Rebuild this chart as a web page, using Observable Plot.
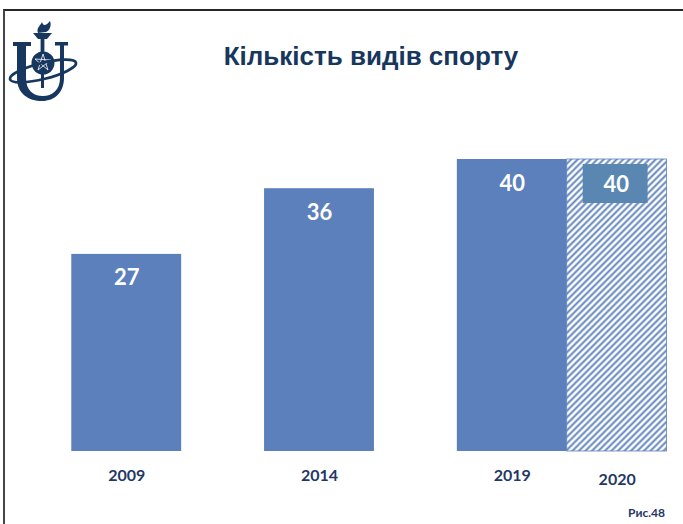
<!DOCTYPE html>
<html><head><meta charset="utf-8">
<script src="https://cdn.jsdelivr.net/npm/d3@7"></script>
<script src="https://cdn.jsdelivr.net/npm/@observablehq/plot@0.6"></script>
<style>
body{margin:0;background:#fff;}
#wrap{position:relative;width:683px;height:524px;overflow:hidden;font-family:Lato,sans-serif;}
#frame{position:absolute;left:3px;top:9px;width:700px;height:540px;border-top:2px solid #262626;border-left:2px solid #444;box-sizing:border-box;pointer-events:none;}
#header{position:relative;height:110px;}
#logo{position:absolute;left:5px;top:20px;}
#title{position:absolute;left:0;width:742px;top:43px;text-align:center;font:bold 26px "Liberation Sans",Arial,sans-serif;color:#17375E;line-height:26px;white-space:nowrap;}
#caption{position:absolute;right:18px;top:506px;font:bold 12px Lato,sans-serif;color:#1F3864;line-height:14px;}
#chart svg{display:block;}
</style></head>
<body>
<div id="wrap">
  <div id="header">
    <svg id="logo" width="80" height="85" viewBox="0 0 80 85">
      <g fill="#17375E">
        <path d="M33,13 C31,8 35,6 37,2 C38,6 41,6 45,1 C47,6 44,11 41,12 Z"/>
        <path d="M28,13 L47,13 L42,19 L33,19 Z"/>
        <rect x="35.6" y="18" width="3.8" height="14"/>
        <rect x="8" y="22" width="18" height="4"/>
        <rect x="50" y="22" width="13" height="3.5"/>
        <path d="M12,24 L12,58 C12,74 24,81 37,81 C50,81 59,72 59,58 L59,24 L55,24 L55,58 C55,70 47,76 38,76 C28,76 21,70 21,58 L21,24 Z"/>
        <circle cx="38" cy="43" r="11.5"/>
        <rect x="36" y="54" width="3" height="14"/>
      </g>
      <g stroke="#fff" stroke-width="0.8" fill="none">
        <path d="M30,39 L46,40 L33,50 L38,34 L43,50 Z"/>
      </g>
      <ellipse cx="38" cy="51" rx="34" ry="8" transform="rotate(-14 38 51)" fill="none" stroke="#17375E" stroke-width="2.8"/>
    </svg>
    <div id="title">Кількість видів спорту</div>
  </div>
  <div id="chart"></div>
  <div id="caption">Рис.48</div>
  <div id="frame"></div>
</div>
<script>
const years = ["2009", "2014", "2019"];
const counts = [27, 36, 40];
const forecastYear = "2020";
const forecastCount = 40;

const data = years.map((year, i) => ({year, value: counts[i]}));
const fc = [{year: forecastYear, anchor: years[years.length - 1], value: forecastCount}];

const W = 683, H = 414;
const marginLeft = 52, marginRight = 97, marginTop = 49, marginBottom = 73;
const xOpts = {type: "band", domain: years, paddingInner: 0.43, paddingOuter: 0.1, round: false};
const yOpts = {domain: [0, 40]};
const xs = Plot.scale({x: {...xOpts, range: [marginLeft, W - marginRight]}});
const ys = Plot.scale({y: {...yOpts, range: [H - marginBottom, marginTop]}});
const bw = xs.bandwidth;
const barColor = "#5B80BC";
const navy = "#1F3864";
const fcBarPx = ys.apply(0) - ys.apply(forecastCount);

const plot = Plot.plot({
  width: W, height: H,
  marginLeft, marginRight, marginTop, marginBottom,
  x: {...xOpts, axis: null},
  y: {...yOpts, axis: null},
  style: {fontFamily: "Lato, sans-serif", background: "transparent", overflow: "visible"},
  marks: [
    Plot.barY(data, {x: "year", y: "value", fill: barColor}),
    Plot.barY(fc, {x: "anchor", y: "value", dx: bw, insetRight: 10, fill: "white", stroke: barColor, strokeWidth: 0.8}),
    Plot.barY(fc, {x: "anchor", y: "value", dx: bw, insetLeft: 16, insetRight: 29, insetTop: 5, insetBottom: fcBarPx - 44, fill: "#5A86B2"}),
    Plot.text(data, {x: "year", y: "value", text: d => String(d.value), dy: 24, fill: "white", fontSize: 22, fontWeight: "bold"}),
    Plot.text(fc, {x: "anchor", y: "value", text: d => String(d.value), dx: bw - 6, dy: 25, fill: "white", fontSize: 22, fontWeight: "bold"}),
    Plot.text(data, {x: "year", y: () => 0, text: "year", dy: 24, fill: navy, fontSize: 16, fontWeight: "bold"}),
    Plot.text(fc, {x: "anchor", y: () => 0, text: "year", dx: bw - 5, dy: 28, fill: navy, fontSize: 16, fontWeight: "bold"})
  ]
});

const svg = d3.select(plot);
const defs = svg.insert("defs", ":first-child");
const pat = defs.append("pattern").attr("id", "hatch").attr("patternUnits", "userSpaceOnUse")
  .attr("width", 4.6).attr("height", 4.6).attr("patternTransform", "rotate(45)");
pat.append("rect").attr("width", 4.6).attr("height", 4.6).attr("fill", "white");
pat.append("line").attr("x1", 2.3).attr("y1", 0).attr("x2", 2.3).attr("y2", 4.6)
  .attr("stroke", barColor).attr("stroke-width", 1.9);
svg.selectAll("g").filter(function() {
  return this.getAttribute("aria-label") === "bar" && this.getAttribute("fill") === "white";
}).attr("fill", "url(#hatch)");

document.getElementById("chart").appendChild(plot);
</script>
</body></html>
